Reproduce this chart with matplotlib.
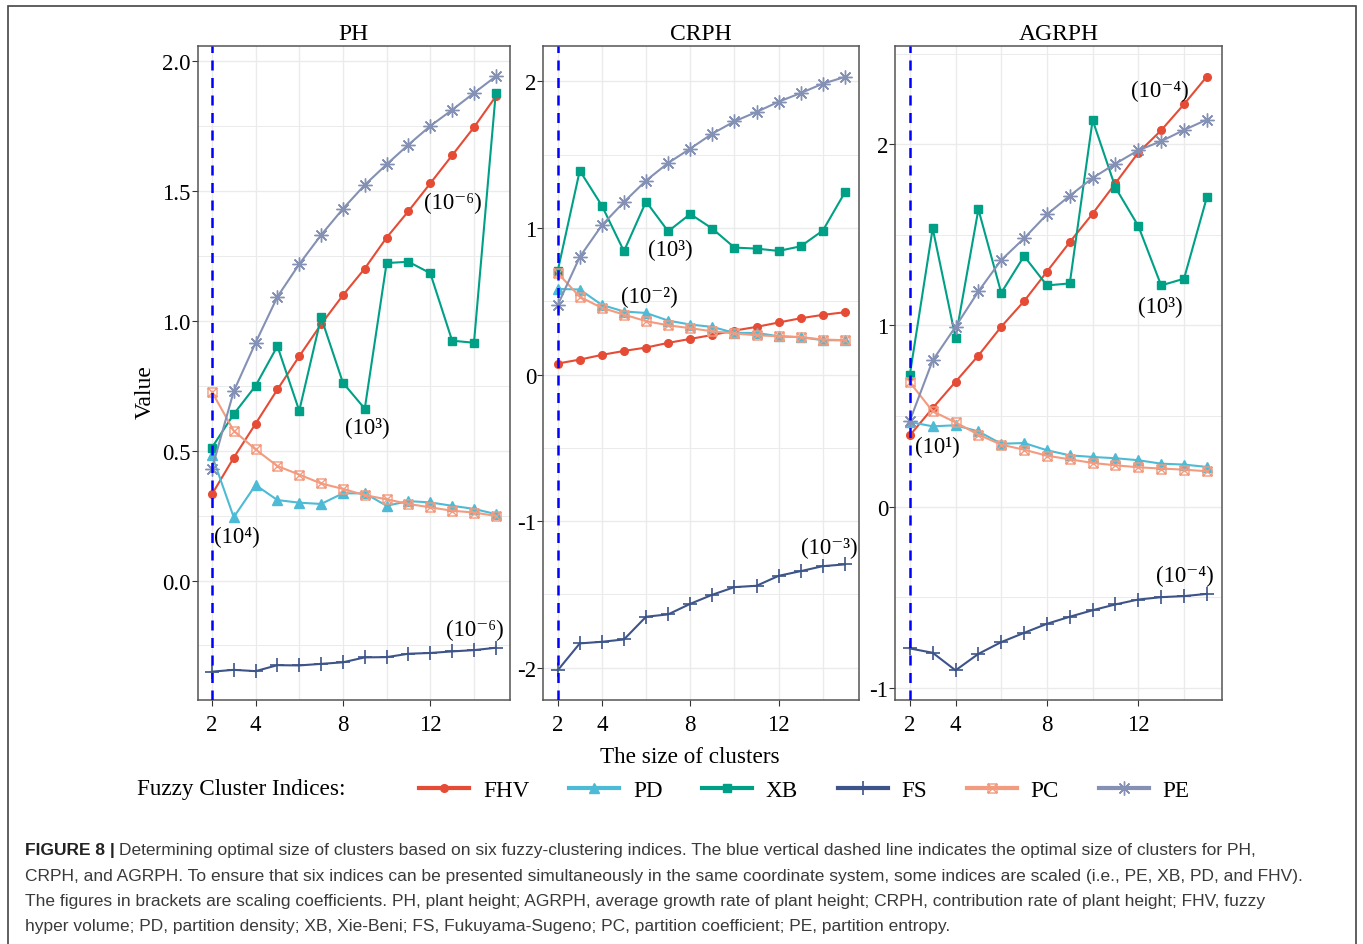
import numpy as np
import matplotlib
matplotlib.use("Agg")
import matplotlib.pyplot as plt
from matplotlib.path import Path
from matplotlib.lines import Line2D
from matplotlib.patches import Rectangle

plt.rcParams['font.family'] = ['Liberation Serif', 'DejaVu Serif']
plt.rcParams['axes.unicode_minus'] = False

# cluster sizes
k = np.arange(2, 16)

# ---- PH ----
ph_fhv = [0.332, 0.473, 0.604, 0.736, 0.864, 0.987, 1.099, 1.202, 1.321, 1.423, 1.530, 1.638, 1.746, 1.865]
ph_pd = [0.483, 0.244, 0.368, 0.310, 0.300, 0.295, 0.336, 0.336, 0.288, 0.306, 0.301, 0.288, 0.276, 0.256]
ph_xb = [0.512, 0.641, 0.750, 0.903, 0.654, 1.014, 0.762, 0.662, 1.223, 1.228, 1.184, 0.924, 0.916, 1.880]
ph_fs = [-0.351, -0.344, -0.349, -0.326, -0.327, -0.321, -0.315, -0.296, -0.295, -0.282, -0.279, -0.273, -0.268, -0.259]
ph_pc = [0.727, 0.577, 0.505, 0.441, 0.408, 0.374, 0.353, 0.329, 0.313, 0.295, 0.282, 0.269, 0.262, 0.249]
ph_pe = [0.430, 0.729, 0.916, 1.093, 1.219, 1.331, 1.432, 1.524, 1.603, 1.679, 1.751, 1.813, 1.878, 1.942]

# ---- CRPH ----
cr_fhv = [0.075, 0.102, 0.134, 0.161, 0.184, 0.216, 0.243, 0.270, 0.300, 0.325, 0.355, 0.384, 0.407, 0.425]
cr_pd = [0.584, 0.580, 0.475, 0.430, 0.420, 0.368, 0.341, 0.325, 0.284, 0.284, 0.261, 0.255, 0.234, 0.234]
cr_xb = [0.705, 1.391, 1.152, 0.841, 1.180, 0.977, 1.095, 0.995, 0.866, 0.859, 0.843, 0.875, 0.982, 1.243]
cr_fs = [-2.018, -1.834, -1.823, -1.807, -1.652, -1.636, -1.564, -1.502, -1.450, -1.441, -1.373, -1.341, -1.307, -1.295]
cr_pc = [0.693, 0.530, 0.455, 0.409, 0.364, 0.336, 0.316, 0.295, 0.280, 0.268, 0.261, 0.255, 0.239, 0.234]
cr_pe = [0.473, 0.802, 1.018, 1.177, 1.323, 1.443, 1.541, 1.643, 1.727, 1.791, 1.861, 1.920, 1.984, 2.030]

# ---- AGRPH ----
ag_fhv = [0.393, 0.544, 0.689, 0.834, 0.993, 1.134, 1.297, 1.460, 1.617, 1.785, 1.954, 2.077, 2.221, 2.374]
ag_pd = [0.467, 0.443, 0.449, 0.415, 0.347, 0.351, 0.311, 0.283, 0.274, 0.267, 0.256, 0.237, 0.232, 0.219]
ag_xb = [0.728, 1.536, 0.932, 1.641, 1.180, 1.383, 1.221, 1.232, 2.134, 1.761, 1.549, 1.221, 1.258, 1.707]
ag_fs = [-0.783, -0.807, -0.904, -0.813, -0.748, -0.697, -0.647, -0.608, -0.572, -0.540, -0.513, -0.500, -0.494, -0.482]
ag_pc = [0.686, 0.526, 0.465, 0.397, 0.342, 0.314, 0.281, 0.261, 0.241, 0.228, 0.217, 0.210, 0.204, 0.195]
ag_pe = [0.474, 0.807, 0.993, 1.188, 1.361, 1.481, 1.613, 1.716, 1.814, 1.893, 1.967, 2.017, 2.079, 2.136]

names = ['FHV', 'PD', 'XB', 'FS', 'PC', 'PE']
colors = ['#E64B35', '#4DBBD5', '#00A087', '#3C5488', '#F39B7F', '#8491B4']

# square with a cross inside (ggplot shape 7)
sqx = Path([(-1, -1), (1, -1), (1, 1), (-1, 1), (-1, -1), (-1, -1), (1, 1), (-1, 1), (1, -1)],
           [Path.MOVETO, Path.LINETO, Path.LINETO, Path.LINETO, Path.CLOSEPOLY,
            Path.MOVETO, Path.LINETO, Path.MOVETO, Path.LINETO])
mstyle = {
    'FHV': dict(marker='o', ms=5.5),
    'PD': dict(marker='^', ms=6.5),
    'XB': dict(marker='s', ms=5.5),
    'FS': dict(marker='+', ms=10, mew=1.2),
    'PC': dict(marker=sqx, ms=6.5, mfc='none', mew=1.0),
    'PE': dict(marker=(8, 2, 0), ms=10, mew=1.0),
}

panels = [
    dict(title='PH', data=[ph_fhv, ph_pd, ph_xb, ph_fs, ph_pc, ph_pe],
         px=(197.7, 510), ylim=(-0.459, 2.058), yticks=[0.0, 0.5, 1.0, 1.5, 2.0],
         ylabels=['0.0', '0.5', '1.0', '1.5', '2.0'], ystep=0.25,
         notes=[(13.05, 1.457, '(10⁻⁶)'), (9.1, 0.589, '(10³)'),
                (3.14, 0.171, '(10⁴)'), (14.05, -0.19, '(10⁻⁶)')]),
    dict(title='CRPH', data=[cr_fhv, cr_pd, cr_xb, cr_fs, cr_pc, cr_pe],
         px=(543.3, 859.3), ylim=(-2.218, 2.239), yticks=[-2, -1, 0, 1, 2],
         ylabels=['-2', '-1', '0', '1', '2'], ystep=0.5,
         notes=[(7.09, 0.853, '(10³)'), (6.13, 0.532, '(10⁻²)'), (14.3, -1.18, '(10⁻³)')]),
    dict(title='AGRPH', data=[ag_fhv, ag_pd, ag_xb, ag_fs, ag_pc, ag_pe],
         px=(895, 1221.7), ylim=(-1.066, 2.541), yticks=[-1, 0, 1, 2],
         ylabels=['-1', '0', '1', '2'], ystep=0.5,
         notes=[(12.95, 2.30, '(10⁻⁴)'), (12.95, 1.107, '(10³)'),
                (3.2, 0.33, '(10¹)'), (14.05, -0.381, '(10⁻⁴)')]),
]

W, H = 1363, 945
fig = plt.figure(figsize=(W / 100, H / 100), dpi=100)
top, bot = 47.3, 700.7
grid_c = '#EBEBEB'

for p in panels:
    l, r = p['px']
    ax = fig.add_axes([l / W, 1 - bot / H, (r - l) / W, (bot - top) / H])
    ax.set_xlim(1.35, 15.65)
    ax.set_ylim(*p['ylim'])
    # grid
    for gx in [2, 4, 6, 8, 10, 12, 14]:
        ax.axvline(gx, color=grid_c, lw=1.0, zorder=0)
    ys = np.arange(np.ceil(p['ylim'][0] / p['ystep']) * p['ystep'], p['ylim'][1], p['ystep'])
    for gy in ys:
        ax.axhline(gy, color=grid_c, lw=1.0 if gy in p['yticks'] else 0.7, zorder=0)
    for name, col, vals in zip(names, colors, p['data']):
        ax.plot(k, vals, color=col, lw=1.5, mec=col, mfc=mstyle[name].get('mfc', col),
                **{kk: v for kk, v in mstyle[name].items() if kk != 'mfc'}, zorder=3)
    ax.axvline(2, color='#0000FF', lw=1.8, ls=(0, (4, 3)), zorder=4)
    for x, y, s in p['notes']:
        ax.text(x, y, s, fontsize=16.5, ha='center', va='center', zorder=5)
    ax.set_xticks([2, 4, 8, 12])
    ax.set_yticks(p['yticks'])
    ax.set_yticklabels(p['ylabels'])
    ax.tick_params(labelsize=16.5, length=4, width=0.8, color='#333333', labelcolor='black')
    ax.tick_params(axis='x', pad=6)
    ax.tick_params(axis='y', pad=1)
    for sp in ax.spines.values():
        sp.set_color('#555555')
        sp.set_linewidth(1.1)
    ax.text(0.5, 1.0 + 12.5 / (bot - top), p['title'], transform=ax.transAxes,
            ha='center', va='center', fontsize=17)

fig.text(145 / W, 1 - 392 / H, 'Value', rotation=90, ha='center', va='center', fontsize=17)
fig.text(690 / W, 1 - 758 / H, 'The size of clusters', ha='center', va='center', fontsize=16.7)

# legend
fig.text(137 / W, 1 - 790 / H, 'Fuzzy Cluster Indices:', ha='left', va='center', fontsize=16.7)
handles = []
for name, col in zip(names, colors):
    st = {kk: v for kk, v in mstyle[name].items() if kk != 'mfc'}
    handles.append(Line2D([], [], color=col, lw=3, mec=col, mfc=mstyle[name].get('mfc', col), **st))
fig.legend(handles, names, loc='center left', bbox_to_anchor=(410 / W, 1 - 791 / H),
           ncol=6, frameon=False, fontsize=16.7, handlelength=2.15, handletextpad=0.6,
           columnspacing=1.71, borderaxespad=0)

# caption
cap_y = [851, 877, 902, 927]
cap = [
    'Determining optimal size of clusters based on six fuzzy-clustering indices. The blue vertical dashed line indicates the optimal size of clusters for PH,',
    'CRPH, and AGRPH. To ensure that six indices can be presented simultaneously in the same coordinate system, some indices are scaled (i.e., PE, XB, PD, and FHV).',
    'The figures in brackets are scaling coefficients. PH, plant height; AGRPH, average growth rate of plant height; CRPH, contribution rate of plant height; FHV, fuzzy',
    'hyper volume; PD, partition density; XB, Xie-Beni; FS, Fukuyama-Sugeno; PC, partition coefficient; PE, partition entropy.',
]
cfont = ['Liberation Sans', 'DejaVu Sans']
cfs = 12.55
head = fig.text(25 / W, 1 - cap_y[0] / H, 'FIGURE 8 |', family=cfont, fontweight='bold',
                fontsize=cfs, ha='left', va='center', color='#222222')
fig.canvas.draw()
bb = head.get_window_extent()
fig.text((bb.x1 + 4) / W, 1 - cap_y[0] / H, cap[0], family=cfont, fontsize=cfs,
         ha='left', va='center', color='#3a3a3a')
for yy, line in zip(cap_y[1:], cap[1:]):
    fig.text(25 / W, 1 - yy / H, line, family=cfont, fontsize=cfs, ha='left', va='center',
             color='#3a3a3a')

# outer frame
fig.patches.append(Rectangle((8 / W, -0.01), (1356 - 8) / W, 1 - 7 / H + 0.01,
                             transform=fig.transFigure, fill=False, ec='#444444', lw=1.2))

fig.savefig('out.png', dpi=100)
